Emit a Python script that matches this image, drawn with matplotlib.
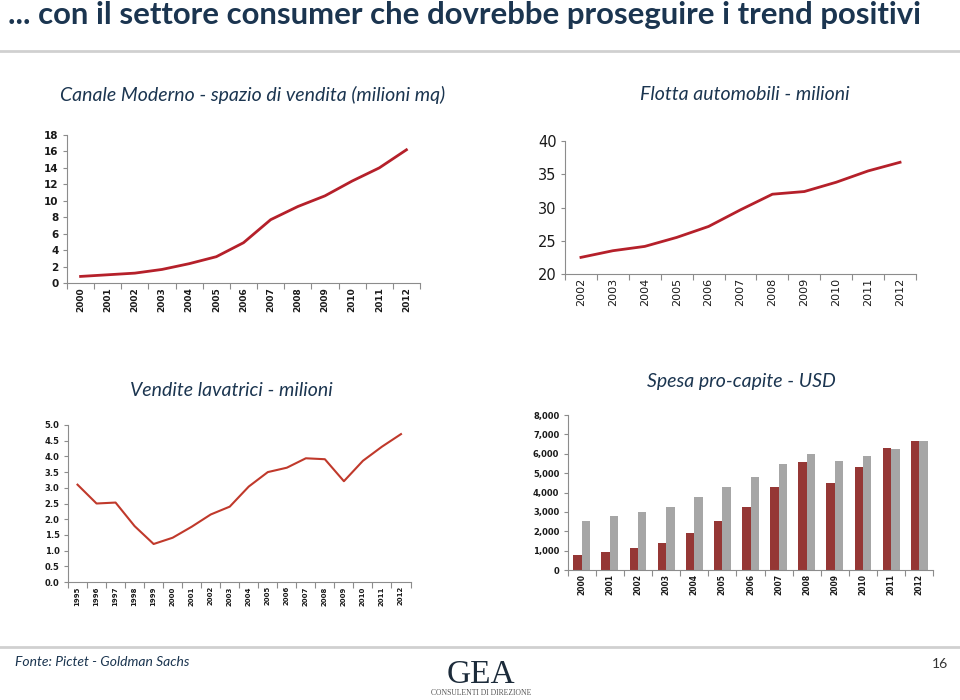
import matplotlib
matplotlib.use("Agg")
import matplotlib.pyplot as plt
from matplotlib.ticker import FuncFormatter, FixedLocator
import numpy as np

# dati
anni_canale = ["2000", "2001", "2002", "2003", "2004", "2005", "2006",
               "2007", "2008", "2009", "2010", "2011", "2012"]
spazio_vendita = [0.8, 1.0, 1.2, 1.65, 2.35, 3.2, 4.9, 7.7, 9.3, 10.6, 12.4, 14.0, 16.2]

anni_auto = ["2002", "2003", "2004", "2005", "2006", "2007", "2008",
             "2009", "2010", "2011", "2012"]
flotta_auto = [22.5, 23.5, 24.15, 25.5, 27.15, 29.65, 32.0, 32.4, 33.8, 35.5, 36.8]

anni_lavatrici = ["1995", "1996", "1997", "1998", "1999", "2000", "2001", "2002", "2003",
                  "2004", "2005", "2006", "2007", "2008", "2009", "2010", "2011", "2012"]
vendite_lavatrici = [3.10, 2.50, 2.53, 1.78, 1.21, 1.41, 1.76, 2.15, 2.40,
                     3.04, 3.50, 3.64, 3.94, 3.91, 3.21, 3.86, 4.31, 4.71]

anni_spesa = ["2000", "2001", "2002", "2003", "2004", "2005", "2006",
              "2007", "2008", "2009", "2010", "2011", "2012"]
spesa_serie_a = [760, 950, 1120, 1400, 1930, 2520, 3240, 4280, 5570, 4500, 5310, 6280, 6660]
spesa_serie_b = [2550, 2790, 3000, 3240, 3780, 4260, 4790, 5470, 6000, 5640, 5900, 6220, 6660]

W, H = 960, 700
NAVY = "#1b3550"
TXT = "#1a1a1a"
SPINE = "#8c8c8c"
HUMAN = ["Lato", "DejaVu Sans"]

fig = plt.figure(figsize=(W / 100, H / 100), dpi=100)


def box(left, right, top, bottom):
    # posizione in pixel -> coordinate figura
    return [left / W, 1 - bottom / H, (right - left) / W, (bottom - top) / H]


def stile_assi(ax, n, xsize, ysize, weight):
    for s in ["top", "right"]:
        ax.spines[s].set_visible(False)
    for s in ["left", "bottom"]:
        ax.spines[s].set_color(SPINE)
        ax.spines[s].set_linewidth(0.8)
    ax.set_xlim(-0.5, n - 0.5)
    ax.set_xticks(np.arange(n))
    ax.xaxis.set_minor_locator(FixedLocator(np.arange(n + 1) - 0.5))
    ax.tick_params(axis="x", which="major", length=0, pad=3,
                   labelsize=xsize, labelrotation=90, labelcolor=TXT)
    ax.tick_params(axis="x", which="minor", length=4, color=SPINE, width=0.8)
    ax.tick_params(axis="y", length=3, color=SPINE, width=0.8, pad=3,
                   labelsize=ysize, labelcolor=TXT)
    for lab in ax.get_xticklabels() + ax.get_yticklabels():
        lab.set_fontweight(weight)


# titolo e separatori
fig.text(8 / W, 1 - 15 / H, "... con il settore consumer che dovrebbe proseguire i trend positivi",
         fontsize=22.4, fontweight="bold", color=NAVY, family=HUMAN, va="center", ha="left")
fig.add_artist(plt.Line2D([0, 1], [1 - 51 / H, 1 - 51 / H], color="#d0d0d0", lw=2))
fig.add_artist(plt.Line2D([0, 1], [1 - 647 / H, 1 - 647 / H], color="#d0d0d0", lw=2))

sub = dict(fontsize=14, style="italic", color=NAVY, family=HUMAN, ha="center", va="center")
fig.text(253 / W, 1 - 95 / H, "Canale Moderno - spazio di vendita (milioni mq)", **sub)
fig.text(745 / W, 1 - 95 / H, "Flotta automobili - milioni", **sub)
fig.text(231 / W, 1 - 390 / H, "Vendite lavatrici - milioni", **sub)
fig.text(741 / W, 1 - 381 / H, "Spesa pro-capite - USD", **sub)

# grafico 1
ax1 = fig.add_axes(box(67, 420, 135, 283))
x1 = np.arange(len(anni_canale))
ax1.plot(x1, spazio_vendita, color="#b5202a", lw=2)
ax1.set_ylim(0, 18)
ax1.set_yticks(np.arange(0, 19, 2))
ax1.set_xticklabels(anni_canale)
stile_assi(ax1, len(anni_canale), 6.5, 7.5, "bold")

# grafico 2
ax2 = fig.add_axes(box(565, 916, 141, 274))
x2 = np.arange(len(anni_auto))
ax2.plot(x2, flotta_auto, color="#b5202a", lw=2)
ax2.set_ylim(20, 40)
ax2.set_yticks(np.arange(20, 41, 5))
ax2.set_xticklabels(anni_auto)
stile_assi(ax2, len(anni_auto), 8, 10.5, "normal")

# grafico 3
ax3 = fig.add_axes(box(68, 410.5, 425, 582))
x3 = np.arange(len(anni_lavatrici))
ax3.plot(x3, vendite_lavatrici, color="#c0392b", lw=1.5)
ax3.set_ylim(0, 5)
ax3.set_yticks(np.arange(0, 5.01, 0.5))
ax3.yaxis.set_major_formatter(FuncFormatter(lambda v, p: f"{v:.1f}"))
ax3.set_xticklabels(anni_lavatrici)
stile_assi(ax3, len(anni_lavatrici), 5, 6, "bold")

# grafico 4
ax4 = fig.add_axes(box(567.6, 933.4, 415, 570))
x4 = np.arange(len(anni_spesa))
ax4.bar(x4 - 0.15, spesa_serie_a, width=0.3, color="#953735")
ax4.bar(x4 + 0.15, spesa_serie_b, width=0.3, color="#a6a6a6")
ax4.set_ylim(0, 8000)
ax4.set_yticks(np.arange(0, 8001, 1000))
ax4.yaxis.set_major_formatter(FuncFormatter(lambda v, p: f"{v:,.0f}"))
ax4.set_xticklabels(anni_spesa)
stile_assi(ax4, len(anni_spesa), 5.5, 6, "bold")

# piè di pagina
fig.text(15 / W, 1 - 662 / H, "Fonte: Pictet - Goldman Sachs", fontsize=10, style="italic",
         color=NAVY, family=HUMAN, va="center")
fig.text(940 / W, 1 - 664 / H, "16", fontsize=10, color="#333333",
         family=HUMAN, ha="center", va="center")
fig.text(481 / W, 1 - 675 / H, "GEA", fontsize=24, color="#1c2b3a",
         family=["Liberation Serif", "DejaVu Serif"], ha="center", va="center")
fig.text(481 / W, 1 - 693 / H, "CONSULENTI DI DIREZIONE", fontsize=5.5, color="#555555",
         family=["Liberation Serif", "DejaVu Serif"], ha="center", va="center")

fig.savefig("out.png", dpi=100)
